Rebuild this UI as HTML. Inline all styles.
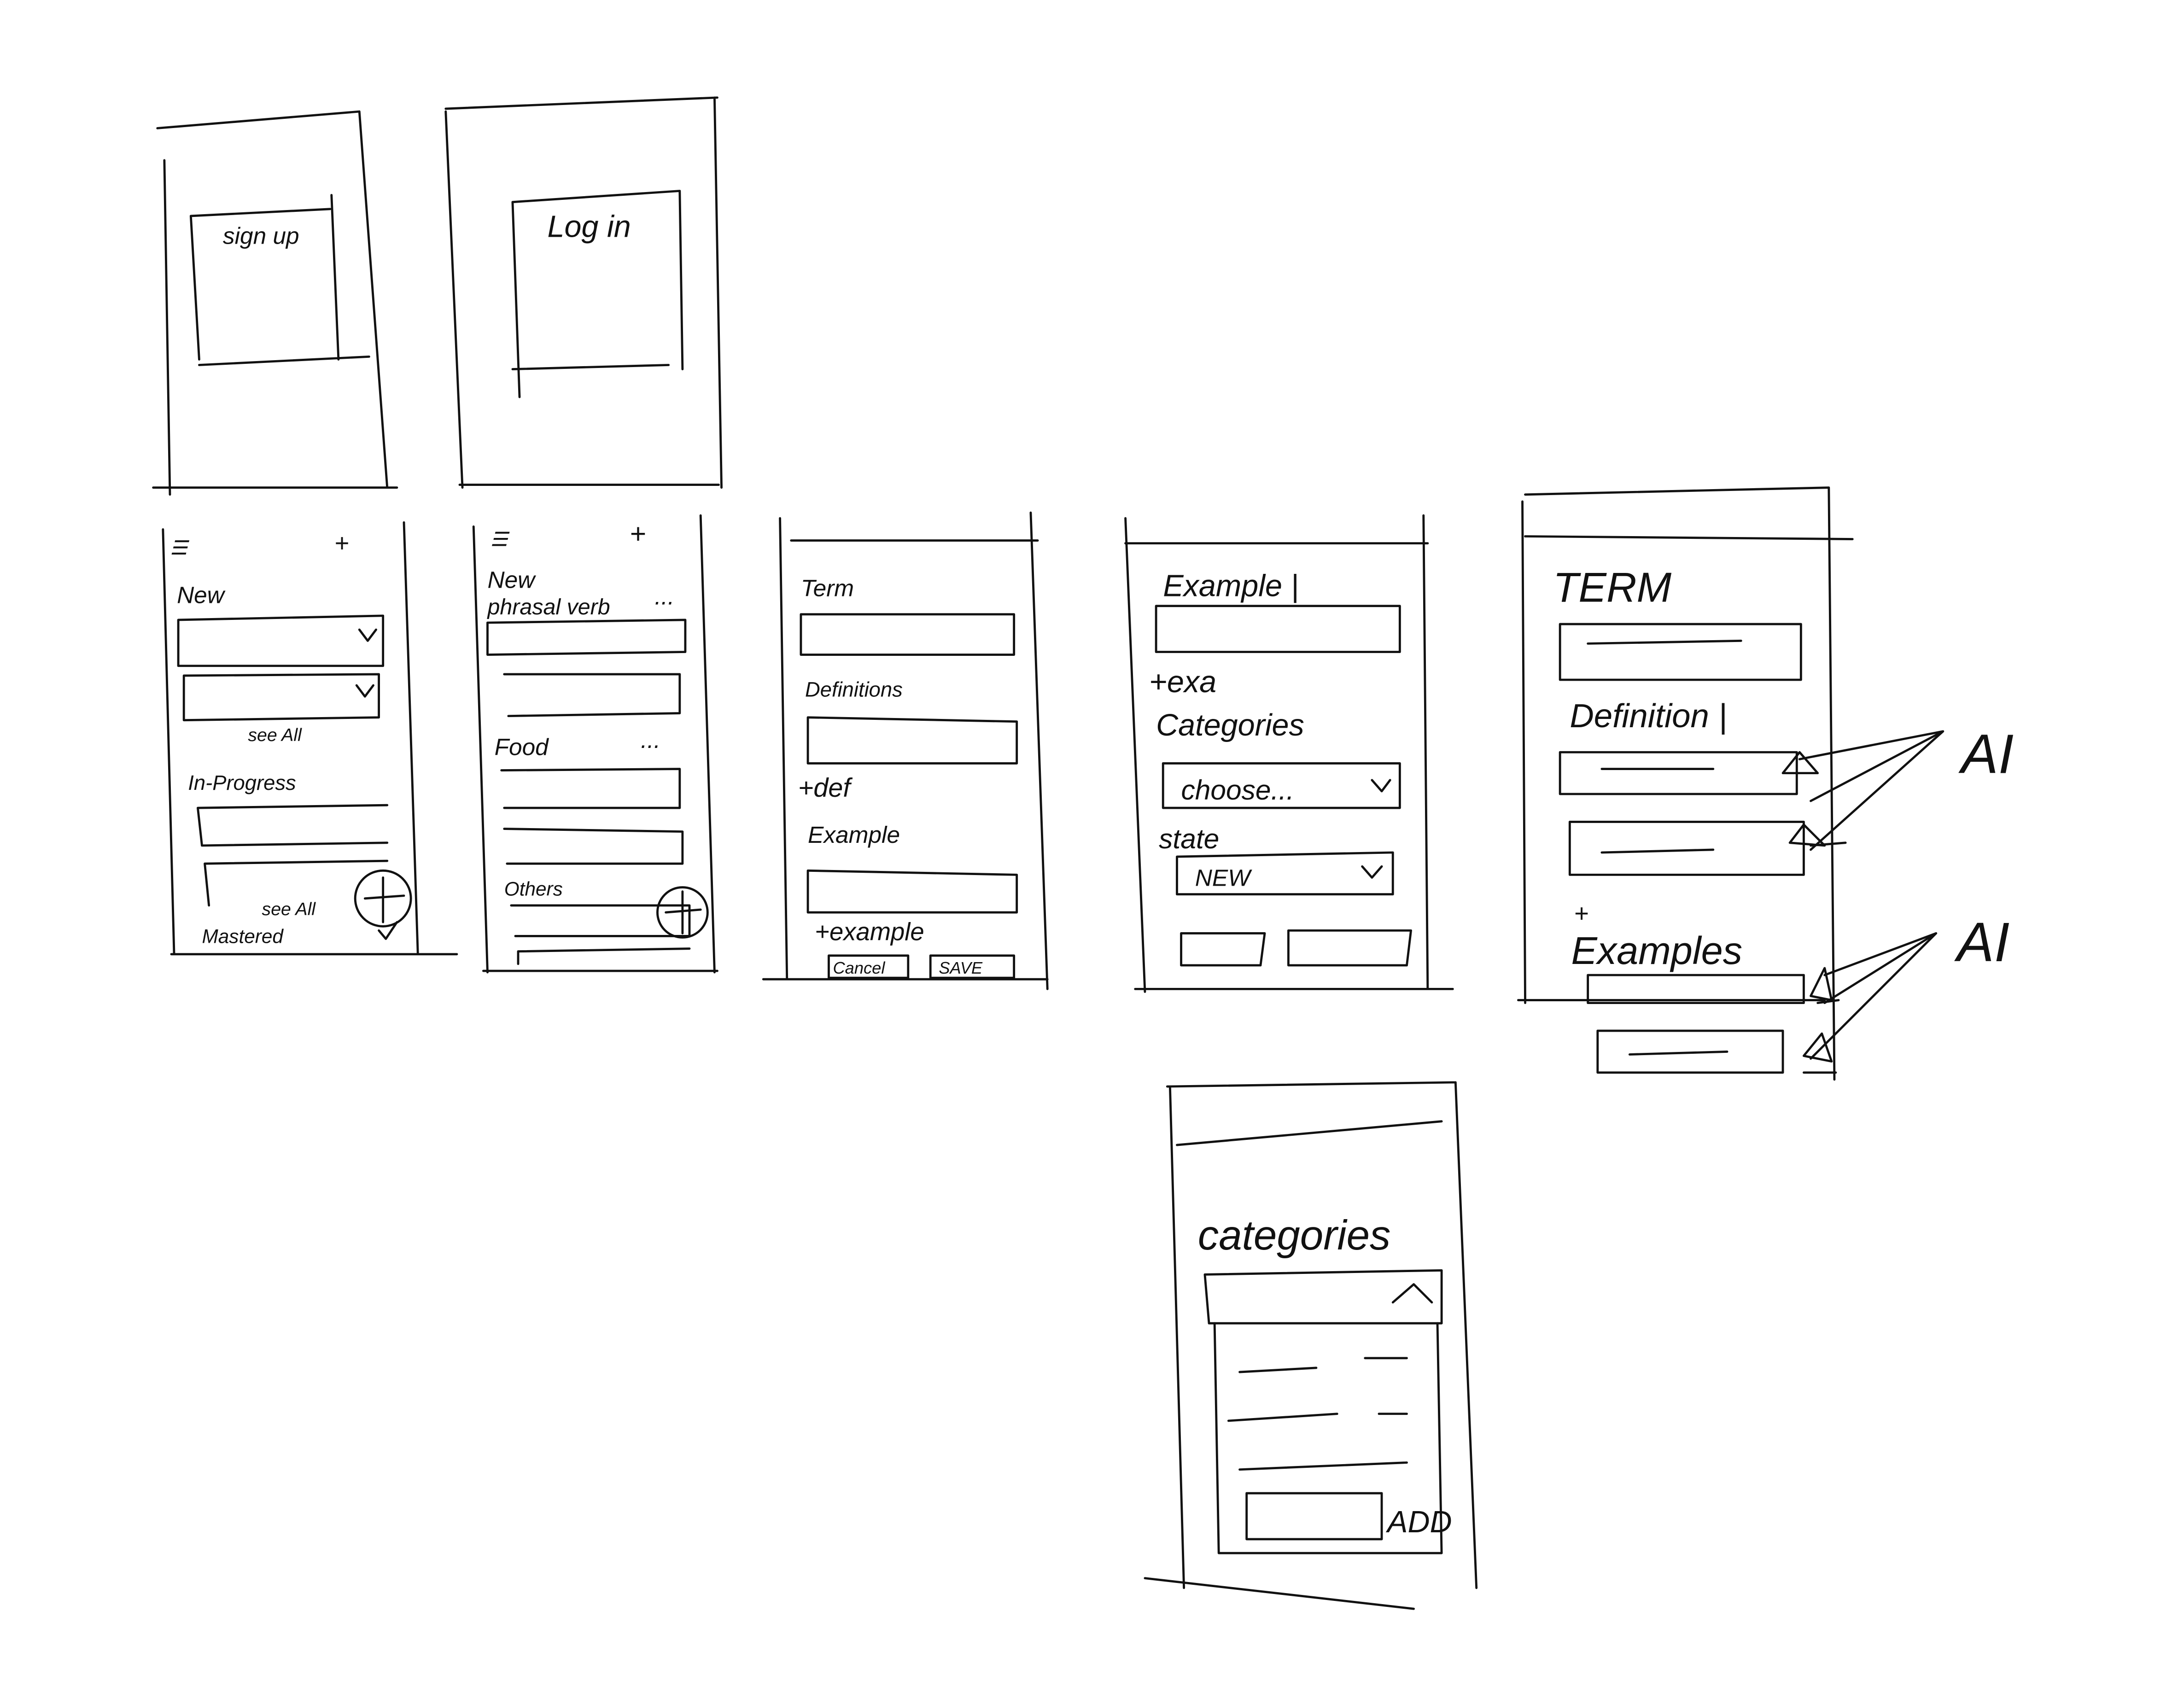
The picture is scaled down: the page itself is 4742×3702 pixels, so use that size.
<!DOCTYPE html>
<html><head><meta charset="utf-8"><style>
html,body{margin:0;padding:0;background:#fff;}
svg{display:block;}
text{font-family:"Liberation Sans",sans-serif;fill:#111;font-style:italic;}
</style></head><body>
<svg width="4742" height="3702" viewBox="0 0 1568 1224" xmlns="http://www.w3.org/2000/svg">
<rect width="1568" height="1224" fill="#fff"/>
<g stroke="#111" stroke-width="1.6" fill="none" stroke-linecap="round" stroke-linejoin="round">
<!-- Signup -->
<path d="M113 92 L258 80 M118 115 L122 355 M258 80 L278 350 M110 350 L285 350"/>
<path d="M137 155 L143 258 M137 155 L237 150 M238 140 L243 258 M143 262 L265 256"/>
<!-- Login -->
<path d="M320 78 L515 70 M320 80 L332 350 M513 70 L518 350 M330 348 L516 348"/>
<path d="M368 145 L373 285 M368 145 L488 137 M488 137 L490 265 M368 265 L480 262"/>
<!-- Screen1 -->
<path d="M117 380 L125 685 M290 375 L300 685 M123 685 L328 685"/>
<path d="M128 445 L275 442 L275 478 L128 478 Z M258 452 L264 460 L270 452"/>
<path d="M132 485 L272 484 L272 515 L132 517 Z M256 492 L262 500 L268 492"/>
<path d="M142 580 L278 578 M142 580 L145 607 L278 605"/>
<path d="M147 620 L278 618 M147 620 L150 650"/>
<circle cx="275" cy="645" r="20"/>
<path d="M275 630 L275 662 M262 645 L290 643"/>
<path d="M272 668 L277 674 L285 662"/>
<!-- Screen2 -->
<path d="M340 378 L350 698 M503 370 L513 698 M347 697 L515 697"/>
<path d="M350 447 L492 445 L492 468 L350 470 Z"/>
<path d="M362 484 L488 484 L488 512 L365 514"/>
<path d="M360 553 L488 552 L488 580 L362 580"/>
<path d="M362 595 L490 597 L490 620 L364 620"/>
<path d="M367 650 L495 650 L495 672 L370 672"/>
<circle cx="490" cy="655" r="18"/>
<path d="M490 640 L490 670 M478 655 L503 653"/>
<path d="M372 683 L495 681 M372 683 L372 692"/>
<!-- Screen3 -->
<path d="M568 388 L745 388 M560 372 L565 702 M740 368 L752 710 M548 703 L752 703"/>
<path d="M575 441 L728 441 L728 470 L575 470 Z"/>
<path d="M580 515 L730 518 L730 548 L580 548 Z"/>
<path d="M580 625 L730 628 L730 655 L580 655 Z"/>
<rect x="595" y="686" width="57" height="16"/>
<rect x="668" y="686" width="60" height="16"/>
<!-- Screen4 -->
<path d="M808 390 L1025 390 M808 372 L822 712 M1022 370 L1025 710 M815 710 L1043 710"/>
<path d="M830 435 L1005 435 L1005 468 L830 468 Z"/>
<path d="M835 548 L1005 548 L1005 580 L835 580 Z M985 560 L992 568 L998 560"/>
<path d="M845 615 L1000 612 L1000 642 L845 642 Z M978 622 L985 630 L992 622"/>
<path d="M848 670 L908 670 L905 693 L848 693 Z"/>
<path d="M925 668 L1013 668 L1010 693 L925 693 Z"/>
<!-- Screen5 -->
<path d="M1095 355 L1313 350 M1093 360 L1095 720 M1313 350 L1317 775 M1095 385 L1330 387 M1090 718 L1310 718"/>
<path d="M1120 448 L1293 448 L1293 488 L1120 488 Z M1140 462 L1250 460"/>
<path d="M1120 540 L1290 540 L1290 570 L1120 570 Z M1150 552 L1230 552"/>
<path d="M1127 590 L1295 590 L1295 628 L1127 628 Z M1150 612 L1230 610"/>
<path d="M1140 700 L1295 700 L1295 720 L1140 720 Z"/>
<path d="M1147 740 L1280 740 L1280 770 L1147 770 Z M1170 757 L1240 755"/>
<path d="M1280 555 L1292 540 L1305 555 Z M1285 605 L1295 592 L1310 607 Z M1300 715 L1310 695 L1315 718 Z M1295 758 L1308 742 L1315 762 Z"/>
<path d="M1292 545 L1395 525 L1300 575 M1300 610 L1395 525 M1310 700 L1390 670 L1310 720 M1300 760 L1390 670"/>
<path d="M1300 607 L1325 605 M1305 720 L1320 718 M1295 770 L1318 770"/>
<!-- Categories -->
<path d="M838 780 L1045 777 M840 780 L850 1140 M1045 777 L1060 1140 M845 822 L1035 805"/>
<path d="M865 915 L1035 912 L1035 950 L868 950 Z M1000 935 L1015 922 L1028 935"/>
<path d="M872 950 L875 1115 L1035 1115 L1032 950"/>
<path d="M890 985 L945 982 M980 975 L1010 975 M882 1020 L960 1015 M990 1015 L1010 1015 M890 1055 L1010 1050"/>
<rect x="895" y="1072" width="97" height="33"/>
<path d="M822 1133 L1015 1155"/>
</g>
<g font-size="17">
<text x="160" y="175">sign up</text>
<text x="393" y="170" font-size="22">Log in</text>
<text x="122" y="398" font-size="14">☰</text><text x="240" y="396" font-size="18">+</text>
<text x="127" y="433">New</text>
<text x="178" y="532" font-size="13">see All</text>
<text x="135" y="567" font-size="15">In-Progress</text>
<text x="188" y="657" font-size="13">see All</text>
<text x="145" y="677" font-size="14">Mastered</text>
<text x="352" y="392" font-size="14">☰</text><text x="452" y="390" font-size="20">+</text>
<text x="350" y="422">New</text>
<text x="350" y="441" font-size="16">phrasal verb</text>
<text x="470" y="434">...</text>
<text x="355" y="542">Food</text><text x="460" y="537">...</text>
<text x="362" y="643" font-size="14">Others</text>
<text x="575" y="428">Term</text>
<text x="578" y="500" font-size="15">Definitions</text>
<text x="573" y="572" font-size="19">+def</text>
<text x="580" y="605">Example</text>
<text x="585" y="675" font-size="18">+example</text>
<text x="598" y="699" font-size="12">Cancel</text>
<text x="674" y="699" font-size="12">SAVE</text>
<text x="835" y="428" font-size="22">Example |</text>
<text x="825" y="497" font-size="22">+exa</text>
<text x="830" y="528" font-size="22">Categories</text>
<text x="848" y="574" font-size="20">choose...</text>
<text x="832" y="609" font-size="20">state</text>
<text x="858" y="636" font-size="17">NEW</text>
<text x="1115" y="432" font-size="30" font-style="normal">TERM</text>
<text x="1127" y="522" font-size="24">Definition |</text>
<text x="1130" y="662" font-size="18">+</text>
<text x="1128" y="692" font-size="28">Examples</text>
<text x="1408" y="555" font-size="40" font-style="normal">AI</text>
<text x="1405" y="690" font-size="40" font-style="normal">AI</text>
<text x="860" y="897" font-size="30">categories</text>
<text x="996" y="1100" font-size="22" font-style="normal">ADD</text>
</g>
</svg>
</body></html>
